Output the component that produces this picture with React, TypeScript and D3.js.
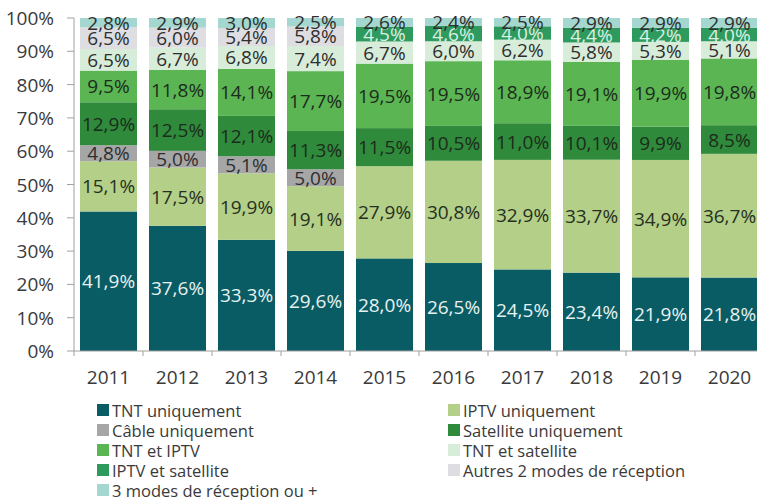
import React from "react";
import * as d3 from "d3";

const years = ["2011", "2012", "2013", "2014", "2015", "2016", "2017", "2018", "2019", "2020"];
const seriesNames = [
  "TNT uniquement",
  "IPTV uniquement",
  "Câble uniquement",
  "Satellite uniquement",
  "TNT et IPTV",
  "TNT et satellite",
  "IPTV et satellite",
  "Autres 2 modes de réception",
  "3 modes de réception ou +",
];
const tntOnly = [41.9, 37.6, 33.3, 29.6, 28.0, 26.5, 24.5, 23.4, 21.9, 21.8];
const iptvOnly = [15.1, 17.5, 19.9, 19.1, 27.9, 30.8, 32.9, 33.7, 34.9, 36.7];
const cableOnly = [4.8, 5.0, 5.1, 5.0, 0, 0, 0, 0, 0, 0];
const satOnly = [12.9, 12.5, 12.1, 11.3, 11.5, 10.5, 11.0, 10.1, 9.9, 8.5];
const tntIptv = [9.5, 11.8, 14.1, 17.7, 19.5, 19.5, 18.9, 19.1, 19.9, 19.8];
const tntSat = [6.5, 6.7, 6.8, 7.4, 6.7, 6.0, 6.2, 5.8, 5.3, 5.1];
const iptvSat = [0, 0, 0, 0, 4.5, 4.6, 4.0, 4.4, 4.2, 4.0];
const other2 = [6.5, 6.0, 5.4, 5.8, 0, 0, 0, 0, 0, 0];
const three = [2.8, 2.9, 3.0, 2.5, 2.6, 2.4, 2.5, 2.9, 2.9, 2.9];
const yTicks = [0, 0.1, 0.2, 0.3, 0.4, 0.5, 0.6, 0.7, 0.8, 0.9, 1];

const seriesValues = [tntOnly, iptvOnly, cableOnly, satOnly, tntIptv, tntSat, iptvSat, other2, three];
const colors = ["#0a5c64", "#b4cf88", "#a6a6a6", "#2f8a3b", "#5bb553", "#d7ecd9", "#2e9a5e", "#dddde2", "#a3d7cf"];
const labelColors = ["#e6f2f2", "#263020", "#2e2e2e", "#1c2c1c", "#1c2c1c", "#2e2e2e", "#d9f0e2", "#2e2e2e", "#2e2e2e"];

const FONT = "'Open Sans', sans-serif";

export default function App() {
  const W = 757, H = 500;
  const y0 = 351, y1 = 18;
  const x = d3.scaleBand<string>().domain(years).range([74, 74 + 69 * 10]).paddingInner(0.174).paddingOuter(0.087);
  const y = d3.scaleLinear().domain([0, 1]).range([y0, y1]);

  const table = years.map((yr, i) => {
    const row: any = { year: yr };
    seriesNames.forEach((s, k) => (row[s] = seriesValues[k][i]));
    return row;
  });
  const stacked = d3.stack<any>().keys(seriesNames).offset(d3.stackOffsetExpand)(table);
  const fmt = (v: number) => v.toFixed(1).replace(".", ",") + "%";

  const legendLeft = seriesNames.filter((_, i) => i % 2 === 0);
  const legendRight = seriesNames.filter((_, i) => i % 2 === 1);

  return (
    <svg width={W} height={H} style={{ position: "absolute", left: 0, top: 0, background: "#fff" }} fontFamily={FONT}>
      {stacked.map((layer, k) => (
        <g key={layer.key}>
          {layer.map((d, i) => {
            const v = seriesValues[k][i];
            if (!v) return null;
            const bx = x(years[i])!;
            return (
              <rect key={i} x={bx} width={x.bandwidth()} y={y(d[1])} height={y(d[0]) - y(d[1])} fill={colors[k]} />
            );
          })}
        </g>
      ))}
      {stacked.map((layer, k) => (
        <g key={"l" + layer.key}>
          {layer.map((d, i) => {
            const v = seriesValues[k][i];
            if (!v) return null;
            const cx = x(years[i])! + x.bandwidth() / 2;
            const cy = (y(d[0]) + y(d[1])) / 2;
            return (
              <text key={i} x={cx} y={cy} textAnchor="middle" dominantBaseline="central" fontSize={19} fill={labelColors[k]}>
                {fmt(v)}
              </text>
            );
          })}
        </g>
      ))}
      {/* axes */}
      <line x1={74} x2={74} y1={y1} y2={y0} stroke="#a0a0a0" strokeWidth={1} />
      <line x1={74} x2={W} y1={y0} y2={y0} stroke="#a0a0a0" strokeWidth={1} />
      {yTicks.map((t) => (
        <g key={t}>
          <line x1={67} x2={74} y1={y(t)} y2={y(t)} stroke="#a0a0a0" />
          <text x={54} y={y(t)} textAnchor="end" dominantBaseline="central" fontSize={19} fill="#3a3a3a">
            {Math.round(t * 100) + "%"}
          </text>
        </g>
      ))}
      {years.map((yr, i) => (
        <g key={yr}>
          <line x1={74 + 69 * i} x2={74 + 69 * i} y1={y0} y2={y0 + 5} stroke="#a0a0a0" />
          <text x={x(yr)! + x.bandwidth() / 2} y={377} textAnchor="middle" dominantBaseline="central" fontSize={19} fill="#3a3a3a">
            {yr}
          </text>
        </g>
      ))}
      {/* legend */}
      {legendLeft.map((s, j) => {
        const k = seriesNames.indexOf(s);
        const cy = 410 + j * 20;
        return (
          <g key={s}>
            <rect x={97} y={cy - 6} width={12} height={12} fill={colors[k]} />
            <text x={112} y={cy} dominantBaseline="central" fontSize={16.5} fill="#3a3a3a">{s}</text>
          </g>
        );
      })}
      {legendRight.map((s, j) => {
        const k = seriesNames.indexOf(s);
        const cy = 410 + j * 20;
        return (
          <g key={s}>
            <rect x={448} y={cy - 6} width={12} height={12} fill={colors[k]} />
            <text x={463} y={cy} dominantBaseline="central" fontSize={16.5} fill="#3a3a3a">{s}</text>
          </g>
        );
      })}
    </svg>
  );
}
